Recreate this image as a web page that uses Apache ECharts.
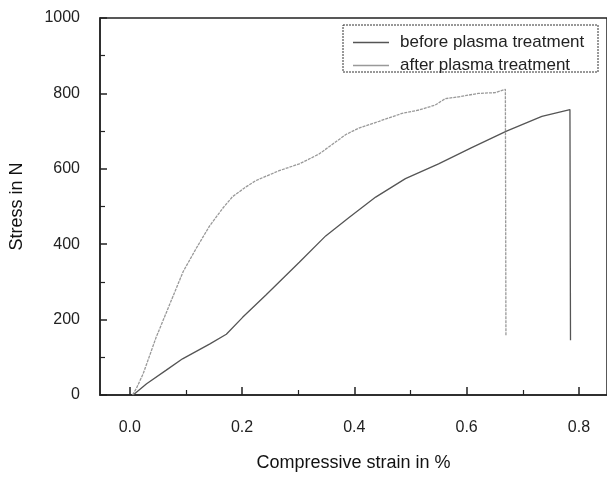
<!DOCTYPE html>
<html>
<head>
<meta charset="utf-8">
<script src="https://cdn.jsdelivr.net/npm/echarts@6/dist/echarts.min.js"></script>
<style>
  html, body { margin: 0; padding: 0; background: #fff; }
  #main { width: 607px; height: 477px; }
</style>
</head>
<body>
<div id="main"></div>
<script>
// strain in %, stress in N
var beforeStrain = [0.006, 0.03, 0.065, 0.094, 0.142, 0.172, 0.201, 0.243, 0.302, 0.349, 0.39, 0.438,
  0.491, 0.55, 0.609, 0.671, 0.734, 0.784, 0.785];
var beforeStress = [0, 30, 66, 96, 135, 161, 206, 266, 352, 422, 470, 525,
  574, 613, 656, 700, 739, 757, 145];

var afterStrain = [0.005, 0.012, 0.024, 0.047, 0.071, 0.095, 0.118, 0.142, 0.166, 0.183, 0.207, 0.225,
  0.266, 0.302, 0.337, 0.361, 0.385, 0.408, 0.444, 0.485, 0.515, 0.544, 0.562, 0.586,
  0.621, 0.651, 0.669, 0.670];
var afterStress = [0, 18, 57, 153, 240, 327, 388, 448, 496, 526, 552, 569,
  595, 613, 639, 665, 691, 708, 726, 747, 756, 769, 786, 791,
  800, 802, 811, 157];

var xLabels = [0, 0.2, 0.4, 0.6, 0.8];
var xMinorTicks = [0.1, 0.3, 0.5, 0.7];
var seriesNames = ['before plasma treatment', 'after plasma treatment'];

function pairs(xs, ys) {
  return xs.map(function (x, i) { return [x, ys[i]]; });
}

var font = 'Liberation Sans, Arial, sans-serif';
var chart = echarts.init(document.getElementById('main'));

chart.setOption({
  animation: false,
  backgroundColor: '#fff',
  textStyle: { fontFamily: font },
  grid: {
    left: 100, top: 18, width: 508.7, height: 384.3,
    show: true, borderColor: '#222', borderWidth: 1.5
  },
  legend: {
    orient: 'vertical',
    left: 348, top: 29,
    icon: 'rect',
    itemWidth: 36, itemHeight: 1.5, itemGap: 6,
    data: seriesNames,
    textStyle: { fontSize: 17, color: '#222', padding: [0, 0, 0, 6] }
  },
  graphic: [{
    type: 'rect',
    shape: { x: 343, y: 25, width: 255, height: 47 },
    style: { fill: 'none', stroke: '#333', lineWidth: 1, lineDash: [2, 1] }
  }],
  xAxis: [{
    type: 'value',
    min: -0.053, max: 0.85,
    name: 'Compressive strain in %',
    nameLocation: 'middle', nameGap: 59,
    nameTextStyle: { fontSize: 18, color: '#111' },
    axisLine: { onZero: false, lineStyle: { color: '#222', width: 1.5 } },
    axisTick: { inside: true, length: 8, customValues: xLabels, lineStyle: { color: '#222', width: 1.5 } },
    axisLabel: {
      customValues: xLabels, margin: 25, fontSize: 16, color: '#222',
      formatter: function (v) { return v.toFixed(1); }
    },
    splitLine: { show: false }
  }, {
    type: 'value',
    min: -0.053, max: 0.85,
    position: 'bottom',
    axisLine: { show: false, onZero: false },
    axisTick: { inside: true, length: 5, customValues: xMinorTicks, lineStyle: { color: '#222', width: 1.2 } },
    axisLabel: { show: false },
    splitLine: { show: false }
  }],
  yAxis: {
    type: 'value',
    min: 0, max: 1000, interval: 200,
    name: 'Stress in N',
    nameLocation: 'middle', nameGap: 74,
    nameTextStyle: { fontSize: 18, color: '#111' },
    axisLine: { show: true, onZero: false, lineStyle: { color: '#222', width: 1.5 } },
    axisTick: { inside: true, length: 7, lineStyle: { color: '#222', width: 1.5 } },
    minorTick: { show: true, splitNumber: 2, length: 5, lineStyle: { color: '#222', width: 1.2 } },
    axisLabel: { margin: 20, fontSize: 16, color: '#222', formatter: function (v) { return String(v); } },
    splitLine: { show: false }
  },
  series: [{
    name: seriesNames[0],
    type: 'line',
    symbol: 'none',
    color: '#555',
    lineStyle: { width: 1.3, color: '#555' },
    data: pairs(beforeStrain, beforeStress)
  }, {
    name: seriesNames[1],
    type: 'line',
    symbol: 'none',
    color: '#999',
    lineStyle: { width: 1.3, color: '#999', type: [3, 1] },
    data: pairs(afterStrain, afterStress)
  }]
});
</script>
</body>
</html>
